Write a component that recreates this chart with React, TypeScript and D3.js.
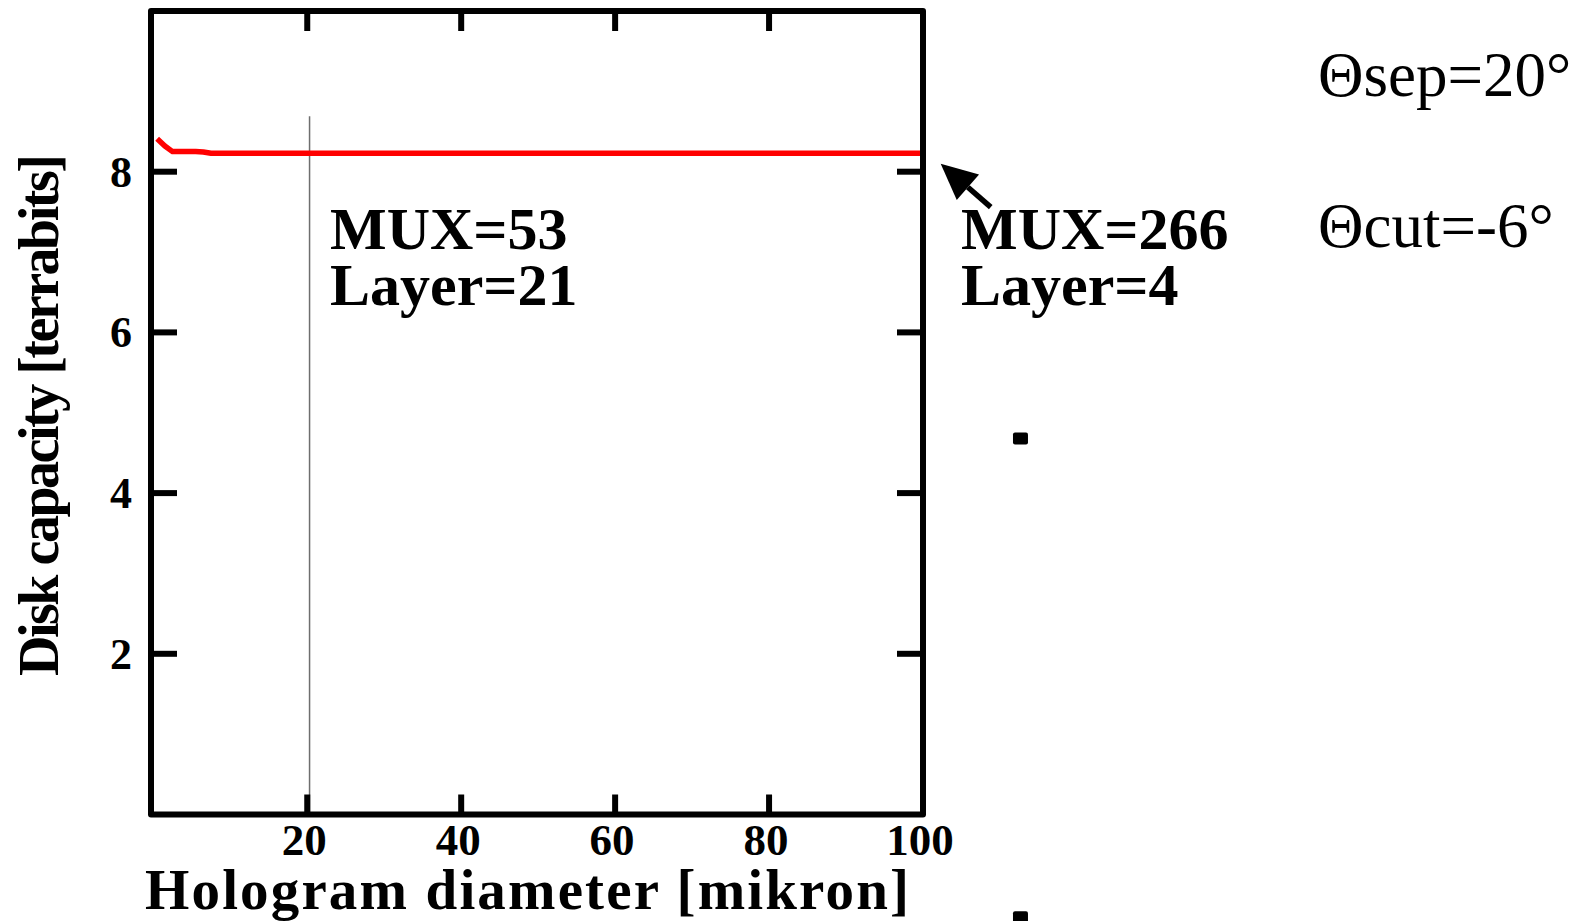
import React, { useEffect, useRef } from 'react';
import * as d3 from 'd3';

// Red curve: hologram diameter [mikron] vs disk capacity [terrabits]
const diameters = [0.5, 1.5, 2.5, 4, 5.5, 6.5, 7.5, 10, 20, 30, 40, 50, 60, 70, 80, 90, 100];
const capacities = [8.41, 8.32, 8.25, 8.25, 8.25, 8.245, 8.23, 8.23, 8.23, 8.23, 8.23, 8.23, 8.23, 8.23, 8.23, 8.23, 8.23];

const xTicks = [20, 40, 60, 80, 100];
const yTicks = [2, 4, 6, 8];

// marker position (vertical thin line) and the stray squares right of the plot
const markerDiameter = 20.3;
const markerTop = 8.69;
const squareX = [112.6, 112.6];
const squareY = [4.68, -1.28];

// arrow pointing at the curve end (data coords)
const arrowTail = { x: 108.8, y: 7.56 };
const arrowTip = { x: 102.3, y: 8.1 };

const App = () => {
  const ref = useRef<SVGSVGElement | null>(null);

  useEffect(() => {
    document.body.style.margin = '0';
    const width = 1580;
    const height = 921;
    const left = 151, right = 923, top = 11, bottom = 814.5;

    const svg = d3.select(ref.current);
    svg.selectAll('*').remove();
    svg.attr('width', width).attr('height', height);

    const x = d3.scaleLinear().domain([-0.3, 100]).range([left, right]);
    const y = d3.scaleLinear().domain([0, 10]).range([bottom, top]);

    const serif = '"Liberation Serif", "Times New Roman", serif';

    // vertical marker line
    svg.append('line')
      .attr('x1', x(markerDiameter)).attr('x2', x(markerDiameter))
      .attr('y1', y(markerTop)).attr('y2', bottom)
      .attr('stroke', '#6e6e6e')
      .attr('stroke-width', 1.5);

    // red line
    const line = d3.line<number>()
      .x((_, i) => x(diameters[i]))
      .y(d => y(d));
    svg.append('path')
      .datum(capacities)
      .attr('d', line)
      .attr('fill', 'none')
      .attr('stroke', '#ff0000')
      .attr('stroke-width', 5.5)
      .attr('stroke-linejoin', 'round');

    // frame
    svg.append('rect')
      .attr('x', left).attr('y', top)
      .attr('width', right - left).attr('height', bottom - top)
      .attr('fill', 'none')
      .attr('stroke', '#000')
      .attr('stroke-width', 6)
      .attr('stroke-linejoin', 'round');

    // inward ticks
    const ticks = svg.append('g').attr('stroke', '#000').attr('stroke-width', 6);
    xTicks.filter(t => t < 100).forEach(t => {
      ticks.append('line').attr('x1', x(t)).attr('x2', x(t)).attr('y1', bottom).attr('y2', bottom - 20);
      ticks.append('line').attr('x1', x(t)).attr('x2', x(t)).attr('y1', top).attr('y2', top + 20);
    });
    yTicks.forEach(t => {
      ticks.append('line').attr('x1', left).attr('x2', left + 26).attr('y1', y(t)).attr('y2', y(t));
      ticks.append('line').attr('x1', right).attr('x2', right - 26).attr('y1', y(t)).attr('y2', y(t));
    });

    // tick labels
    svg.append('g')
      .selectAll('text')
      .data(xTicks)
      .enter()
      .append('text')
      .attr('x', d => x(d) - 3)
      .attr('y', 855)
      .attr('text-anchor', 'middle')
      .style('font-family', serif)
      .style('font-weight', 'bold')
      .style('font-size', '45px')
      .text(d => d);

    svg.append('g')
      .selectAll('text')
      .data(yTicks)
      .enter()
      .append('text')
      .attr('x', 132)
      .attr('y', d => y(d) + 15)
      .attr('text-anchor', 'end')
      .style('font-family', serif)
      .style('font-weight', 'bold')
      .style('font-size', '44px')
      .text(d => d);

    // axis titles
    svg.append('text')
      .attr('x', 527)
      .attr('y', 909)
      .attr('text-anchor', 'middle')
      .attr('textLength', 764)
      .attr('lengthAdjust', 'spacing')
      .style('font-family', serif)
      .style('font-weight', 'bold')
      .style('font-size', '57px')
      .text('Hologram diameter [mikron]');

    svg.append('text')
      .attr('transform', 'translate(58,415) rotate(-90)')
      .attr('text-anchor', 'middle')
      .attr('textLength', 522)
      .attr('lengthAdjust', 'spacing')
      .style('font-family', serif)
      .style('font-weight', 'bold')
      .style('font-size', '56px')
      .text('Disk capacity [terrabits]');

    // annotations
    const note = (tx: number, ty: number, s: string) =>
      svg.append('text')
        .attr('x', tx).attr('y', ty)
        .style('font-family', serif)
        .style('font-weight', 'bold')
        .style('font-size', '60px')
        .text(s);
    note(330, 249, 'MUX=53');
    note(330, 305, 'Layer=21');
    note(961, 249, 'MUX=266');
    note(961, 305, 'Layer=4');

    const theta = (ty: number, s: string) =>
      svg.append('text')
        .attr('x', 1318).attr('y', ty)
        .style('font-family', serif)
        .style('font-size', '63px')
        .text(s);
    theta(96, 'Θsep=20°');
    theta(247, 'Θcut=-6°');

    // arrow
    const x1 = x(arrowTail.x), y1 = y(arrowTail.y);
    const x2 = x(arrowTip.x), y2 = y(arrowTip.y);
    const ang = Math.atan2(y2 - y1, x2 - x1);
    const headLen = 36, headW = 17;
    const bx = x2 - headLen * Math.cos(ang), by = y2 - headLen * Math.sin(ang);
    svg.append('line')
      .attr('x1', x1).attr('y1', y1)
      .attr('x2', bx).attr('y2', by)
      .attr('stroke', '#000')
      .attr('stroke-width', 5.5);
    svg.append('path')
      .attr('d', `M${x2},${y2} L${bx + headW * Math.sin(ang)},${by - headW * Math.cos(ang)} L${bx - headW * Math.sin(ang)},${by + headW * Math.cos(ang)} Z`)
      .attr('fill', '#000');

    // stray square markers
    svg.append('g')
      .selectAll('rect')
      .data(squareY)
      .enter()
      .append('rect')
      .attr('x', (_, i) => x(squareX[i]) - 7)
      .attr('y', d => y(d) - 6)
      .attr('width', 15)
      .attr('height', 12)
      .attr('rx', 2)
      .attr('fill', '#000');
  }, []);

  return <svg ref={ref} style={{ display: 'block' }}></svg>;
};

export default App;
